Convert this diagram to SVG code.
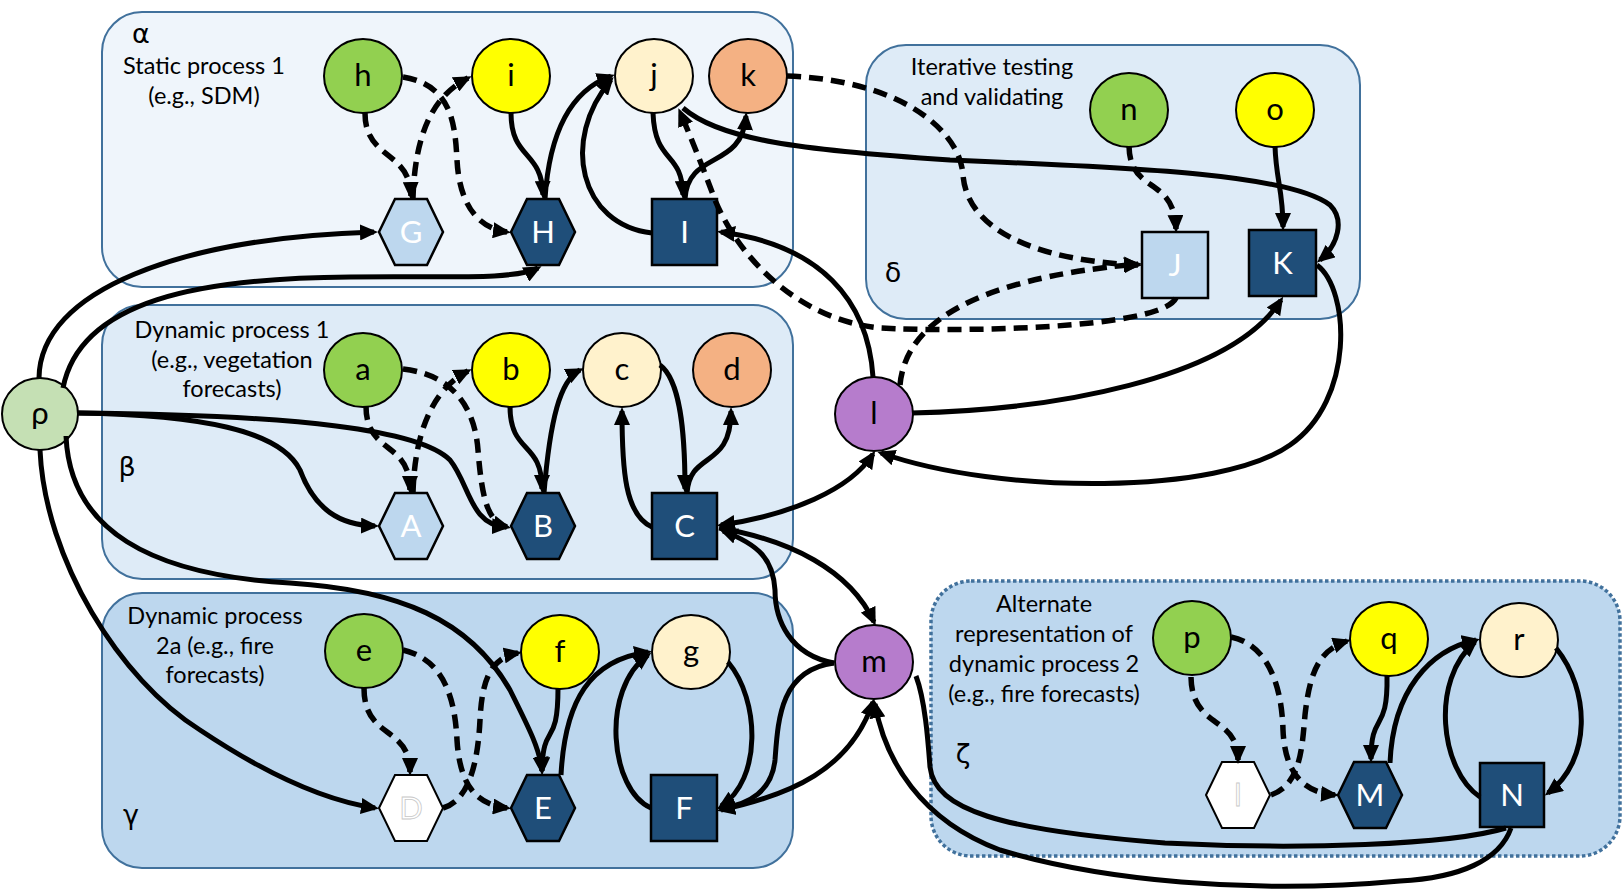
<svg xmlns="http://www.w3.org/2000/svg" width="1624" height="894" viewBox="0 0 1624 894">
<style>
.box{stroke:#41719c;stroke-width:2}
.lbl{font-family:Lato,"Liberation Sans",sans-serif;font-size:23.5px;fill:#000;text-anchor:middle}
.greek{font-family:"DejaVu Sans","Liberation Sans",sans-serif;font-size:27px;fill:#000;text-anchor:middle}
.circ{stroke:#000;stroke-width:2}
.sq{fill:#1f4e79;stroke:#000;stroke-width:2.5}
.lt{fill:#bdd7ee;stroke:#000;stroke-width:2.5}
.wh{fill:#fff;stroke:#000;stroke-width:2}
.tb{font-family:Lato,"Liberation Sans",sans-serif;font-size:31px;fill:#000;text-anchor:middle}
.tw{font-family:Lato,"Liberation Sans",sans-serif;font-size:31px;fill:#fff;text-anchor:middle}
.tww{font-family:Lato,"Liberation Sans",sans-serif;font-size:31px;fill:#fff;stroke:#c8c8c8;stroke-width:0.8;text-anchor:middle}
.e{fill:none;stroke:#000;stroke-width:5}
.d{fill:none;stroke:#000;stroke-width:5.5;stroke-dasharray:14 8}
.a{marker-end:url(#ah)}
.b{marker-start:url(#ah);marker-end:url(#ah)}
</style>
<defs>
<marker id="ah" viewBox="0 0 18 16" refX="14" refY="8" markerWidth="18" markerHeight="16" markerUnits="userSpaceOnUse" orient="auto-start-reverse">
<path d="M0,0 L18,8 L0,16 z" fill="#000"/>
</marker>
<polygon id="hex" points="-32,0 -16,-33 16,-33 32,0 16,33 -16,33"/>
</defs>
<rect width="1624" height="894" fill="#fff"/>

<g id="groups">
<g id="group-alpha">
<rect class="box" x="102" y="12" width="691" height="275" rx="40" fill="#eff5fb"/>
<text class="greek" x="141" y="43">α</text>
<text class="lbl" x="204" y="74">Static process 1</text>
<text class="lbl" x="204" y="104">(e.g., SDM)</text>
</g>
<g id="group-delta">
<rect class="box" x="866" y="45" width="494" height="274" rx="40" fill="#deebf7"/>
<text class="greek" x="893" y="282">δ</text>
<text class="lbl" x="992" y="75">Iterative testing</text>
<text class="lbl" x="992" y="105">and validating</text>
</g>
<g id="group-beta">
<rect class="box" x="102" y="305" width="691" height="274" rx="40" fill="#deebf7"/>
<text class="greek" x="127" y="476">β</text>
<text class="lbl" x="232" y="338">Dynamic process 1</text>
<text class="lbl" x="232" y="368">(e.g., vegetation</text>
<text class="lbl" x="232" y="397">forecasts)</text>
</g>
<g id="group-gamma">
<rect class="box" x="102" y="593" width="691" height="275" rx="40" fill="#bdd7ee"/>
<text class="greek" x="131" y="824">γ</text>
<text class="lbl" x="215" y="624">Dynamic process</text>
<text class="lbl" x="215" y="654">2a (e.g., fire</text>
<text class="lbl" x="215" y="683">forecasts)</text>
</g>
<g id="group-zeta">
<rect x="931" y="581" width="689" height="275" rx="40" fill="#bdd7ee" stroke="#41719c" stroke-width="3.5" stroke-dasharray="3.5 2.5"/>
<text class="greek" x="963" y="763">ζ</text>
<text class="lbl" x="1044" y="612">Alternate</text>
<text class="lbl" x="1044" y="642">representation of</text>
<text class="lbl" x="1044" y="672">dynamic process 2</text>
<text class="lbl" x="1044" y="702">(e.g., fire forecasts)</text>
</g>
</g>

<g id="nodes">
<g id="node-rho"><ellipse class="circ" cx="40" cy="414" rx="38" ry="36" fill="#c5e0b4"/><text class="tb" x="40" y="424">ρ</text></g>
<g id="node-h"><ellipse class="circ" cx="363" cy="76" rx="39" ry="37" fill="#92d050"/><text class="tb" x="363" y="86">h</text></g>
<g id="node-i"><ellipse class="circ" cx="511" cy="76" rx="39" ry="37" fill="#ffff00"/><text class="tb" x="511" y="86">i</text></g>
<g id="node-j"><ellipse class="circ" cx="654" cy="76" rx="39" ry="37" fill="#fff2cc"/><text class="tb" x="654" y="86">j</text></g>
<g id="node-k"><ellipse class="circ" cx="748" cy="76" rx="39" ry="37" fill="#f4b183"/><text class="tb" x="748" y="86">k</text></g>
<g id="node-G"><use href="#hex" x="411" y="232" class="lt"/><text class="tw" x="411" y="243">G</text></g>
<g id="node-H"><use href="#hex" x="543" y="232" class="sq"/><text class="tw" x="543" y="243">H</text></g>
<g id="node-I"><rect class="sq" x="652" y="199" width="65" height="66"/><text class="tw" x="684.5" y="243">I</text></g>
<g id="node-n"><ellipse class="circ" cx="1129" cy="110" rx="39" ry="37" fill="#92d050"/><text class="tb" x="1129" y="120">n</text></g>
<g id="node-o"><ellipse class="circ" cx="1275" cy="110" rx="39" ry="37" fill="#ffff00"/><text class="tb" x="1275" y="120">o</text></g>
<g id="node-J"><rect class="lt" x="1142" y="232" width="66" height="66"/><text class="tw" x="1175" y="276">J</text></g>
<g id="node-K"><rect class="sq" x="1249" y="230" width="67" height="66"/><text class="tw" x="1282.5" y="274">K</text></g>
<g id="node-a"><ellipse class="circ" cx="363" cy="370" rx="39" ry="37" fill="#92d050"/><text class="tb" x="363" y="380">a</text></g>
<g id="node-b"><ellipse class="circ" cx="511" cy="370" rx="39" ry="37" fill="#ffff00"/><text class="tb" x="511" y="380">b</text></g>
<g id="node-c"><ellipse class="circ" cx="622" cy="370" rx="39" ry="37" fill="#fff2cc"/><text class="tb" x="622" y="380">c</text></g>
<g id="node-d"><ellipse class="circ" cx="732" cy="370" rx="39" ry="37" fill="#f4b183"/><text class="tb" x="732" y="380">d</text></g>
<g id="node-A"><use href="#hex" x="411" y="526" class="lt"/><text class="tw" x="411" y="537">A</text></g>
<g id="node-B"><use href="#hex" x="543" y="526" class="sq"/><text class="tw" x="543" y="537">B</text></g>
<g id="node-C"><rect class="sq" x="652" y="493" width="65" height="66"/><text class="tw" x="684.5" y="537">C</text></g>
<g id="node-l"><ellipse class="circ" cx="874" cy="414" rx="39" ry="37" fill="#b67ccc"/><text class="tb" x="874" y="424">l</text></g>
<g id="node-e"><ellipse class="circ" cx="364" cy="651" rx="39" ry="37" fill="#92d050"/><text class="tb" x="364" y="661">e</text></g>
<g id="node-f"><ellipse class="circ" cx="560" cy="652" rx="39" ry="37" fill="#ffff00"/><text class="tb" x="560" y="662">f</text></g>
<g id="node-g"><ellipse class="circ" cx="691" cy="652" rx="39" ry="37" fill="#fff2cc"/><text class="tb" x="691" y="662">g</text></g>
<g id="node-D"><use href="#hex" x="411" y="808" class="wh"/><text class="tww" x="411" y="819">D</text></g>
<g id="node-E"><use href="#hex" x="543" y="808" class="sq"/><text class="tw" x="543" y="819">E</text></g>
<g id="node-F"><rect class="sq" x="651" y="775" width="66" height="66"/><text class="tw" x="684" y="819">F</text></g>
<g id="node-m"><ellipse class="circ" cx="874" cy="662" rx="39" ry="37" fill="#b67ccc"/><text class="tb" x="874" y="672">m</text></g>
<g id="node-p"><ellipse class="circ" cx="1192" cy="638" rx="39" ry="37" fill="#92d050"/><text class="tb" x="1192" y="648">p</text></g>
<g id="node-q"><ellipse class="circ" cx="1389" cy="639" rx="39" ry="37" fill="#ffff00"/><text class="tb" x="1389" y="649">q</text></g>
<g id="node-r"><ellipse class="circ" cx="1519" cy="640" rx="39" ry="37" fill="#fff2cc"/><text class="tb" x="1519" y="650">r</text></g>
<g id="node-lhex"><use href="#hex" x="1238" y="795" class="wh"/><text class="tww" x="1238" y="806">l</text></g>
<g id="node-M"><use href="#hex" x="1370" y="795" class="sq"/><text class="tw" x="1370" y="806">M</text></g>
<g id="node-N"><rect class="sq" x="1480" y="763" width="64" height="64"/><text class="tw" x="1512" y="806">N</text></g>
</g>

<g id="connectors">
<path class="e a" d="M39,378 C40,290 180,238 374,232"/>
<path class="e a" d="M63,388 C80,300 200,278 350,277 C450,276 515,280 538,268"/>
<path class="e a" d="M511,113 C511,160 542,150 543,195"/>
<path class="e a" d="M545,199 C550,120 578,88 611,76"/>
<path class="e a" d="M652,233 C580,225 560,140 611,80"/>
<path class="e a" d="M653,113 C655,165 682,150 683,195"/>
<path class="e a" d="M685,199 C688,150 742,170 746,116"/>
<path class="e a" d="M683,108 C720,140 800,150 950,160 C1150,168 1290,175 1330,205 C1345,220 1338,245 1320,260"/>
<path class="e a" d="M1275,146 C1276,180 1283,190 1283,227"/>
<path class="e a" d="M873,377 C868,300 820,245 721,232"/>
<path class="e a" d="M912,413 C1050,410 1230,380 1281,300"/>
<path class="e a" d="M1317,265 C1350,290 1355,400 1290,445 C1220,495 1000,495 881,453"/>
<path class="e a" d="M78,413 C200,415 280,430 300,470 C315,510 340,525 375,526"/>
<path class="e a" d="M78,413 C300,415 420,430 450,460 C470,485 470,525 506,527"/>
<path class="e a" d="M510,406 C510,455 542,440 542,489"/>
<path class="e a" d="M544,493 C550,420 560,380 580,370"/>
<path class="e a" d="M652,527 C625,515 622,470 622,411"/>
<path class="e a" d="M660,365 C680,380 685,430 685,489"/>
<path class="e a" d="M687,493 C690,450 731,470 731,411"/>
<path class="e b" d="M721,525 C790,515 850,490 873,454"/>
<path class="e a" d="M719,528 C790,540 850,570 874,622"/>
<path class="e a" d="M834,663 C790,655 775,620 775,590 C773,560 760,545 723,531"/>
<path class="e a" d="M40,450 C45,560 120,680 200,730 C260,770 320,800 375,808"/>
<path class="e a" d="M66,436 C70,530 150,575 290,583 C400,590 470,620 510,690 C530,730 540,750 542,771"/>
<path class="e a" d="M558,688 C558,750 543,720 542,771"/>
<path class="e a" d="M561,775 C565,700 590,660 648,652"/>
<path class="e a" d="M651,808 C610,790 600,690 648,655"/>
<path class="e a" d="M728,662 C760,700 762,780 721,806"/>
<path class="e a" d="M834,663 C780,670 778,720 775,760 C772,790 750,805 721,808"/>
<path class="e b" d="M721,810 C790,795 850,770 873,702"/>
<path class="e" d="M916,676 C925,700 928,740 930,767 C935,810 1000,830 1165,843 C1300,850 1450,845 1506,828"/>
<path class="e a" d="M1511,828 C1500,860 1460,878 1400,881 C1250,895 1100,880 1000,850 C920,820 885,760 875,704"/>
<path class="e a" d="M1387,676 C1388,735 1371,710 1371,759"/>
<path class="e a" d="M1390,763 C1393,690 1430,650 1476,640"/>
<path class="e a" d="M1480,797 C1440,770 1430,680 1475,642"/>
<path class="e a" d="M1556,648 C1590,690 1592,760 1548,793"/>
<path class="d a" d="M365,113 C365,160 410,150 411,196"/>
<path class="d a" d="M413,198 C415,130 435,95 468,78"/>
<path class="d a" d="M403,77 C450,85 455,120 457,160 C459,200 475,228 507,232"/>
<path class="d a" d="M787,76 C900,80 960,130 963,175 C968,240 1060,262 1138,265"/>
<path class="d a" d="M1129,146 C1130,195 1174,175 1176,229"/>
<path class="d a" d="M1176,298 C1160,330 950,332 880,328 C800,320 740,260 715,200 C702,165 690,135 680,112"/>
<path class="d a" d="M900,385 C905,330 960,280 1138,264"/>
<path class="d a" d="M366,406 C366,455 410,440 410,490"/>
<path class="d a" d="M413,493 C415,420 440,385 468,371"/>
<path class="d a" d="M403,369 C455,375 475,410 478,450 C482,500 488,522 507,527"/>
<path class="d a" d="M364,688 C364,740 410,725 410,772"/>
<path class="d a" d="M403,650 C445,660 455,700 457,740 C460,790 480,805 507,808"/>
<path class="d a" d="M443,808 C470,800 478,760 480,720 C482,680 490,658 518,653"/>
<path class="d a" d="M1191,677 C1192,730 1238,715 1238,760"/>
<path class="d a" d="M1231,637 C1270,645 1282,690 1283,730 C1285,780 1310,793 1335,795"/>
<path class="d a" d="M1271,795 C1300,785 1302,750 1305,715 C1310,670 1320,650 1347,641"/>
</g>
</svg>
